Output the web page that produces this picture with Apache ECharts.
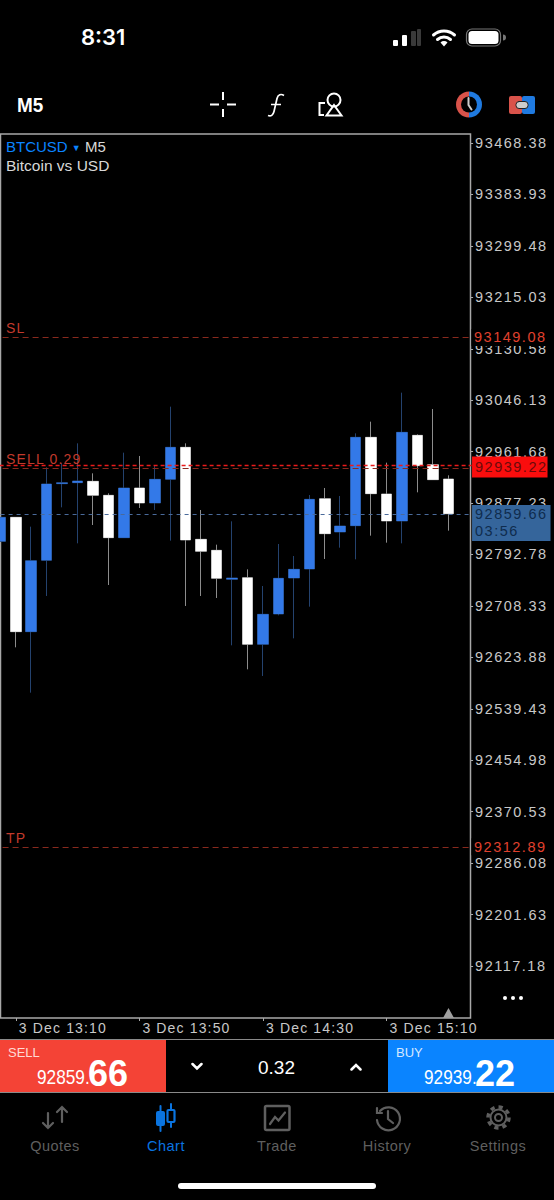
<!DOCTYPE html>
<html>
<head>
<meta charset="utf-8">
<title>BTCUSD M5</title>
<script src="https://cdn.jsdelivr.net/npm/echarts@6/dist/echarts.min.js"></script>
<style>
	html, body {margin: 0; padding: 0; background: #000; width: 554px; height: 1200px; overflow: hidden;}
	body {font-family: "Liberation Sans", sans-serif; color: #fff;}
	#chart {position: absolute; left: 0; top: 0; width: 554px; height: 1200px;}
	#chart svg text {letter-spacing: 1.15px;}
	#chart svg text[style*="14.5px"] {letter-spacing: 1.5px;}
	#icons {position: absolute; left: 0; top: 0;}
	.t {position: absolute; white-space: nowrap; line-height: 1;}
	.narrow {transform: scaleX(.82); transform-origin: left center;}
	.panel {position: absolute; top: 1040px; height: 52px;}
	.tab {position: absolute; top: 1139px; width: 90px; text-align: center; font-size: 14.5px; letter-spacing: .5px; color: #5f5f5f; line-height: 1;}
</style>
</head>
<body>
<div id="chart"></div>

<div class="panel" style="left:0;width:166px;background:#f44336"></div>
<div class="panel" style="left:388px;width:166px;background:#0a84ff"></div>

<svg id="icons" width="554" height="1200" fill="none" stroke-linecap="round">
	<!-- status bar -->
	<g fill="#fff" stroke="none">
		<rect x="393" y="40" width="5" height="6" rx="1"/>
		<rect x="402" y="35" width="5" height="11" rx="1"/>
		<rect x="411" y="31" width="5" height="15" rx="1" fill="#3a3a3a"/>
		<rect x="417" y="29" width="4" height="17" rx="1" fill="#3a3a3a"/>
	</g>
	<g stroke="#fff" stroke-width="3">
		<path d="M433.500 35a16 16 0 0 1 21 0"/>
		<path d="M437.500 39.500a10 10 0 0 1 13 0"/>
	</g>
	<path d="M440.500 42.500a5 5 0 0 1 7 0L444 46.500z" fill="#fff"/>
	<rect x="466.500" y="29" width="34" height="17" rx="5.500" stroke="#777" stroke-width="1.200"/>
	<rect x="468.500" y="31" width="30" height="13" rx="3.500" fill="#fff"/>
	<path d="M503 34.500v6a3 3 0 0 0 0-6z" fill="#777"/>

	<!-- toolbar -->
	<g stroke="#fff" stroke-width="2" stroke-linecap="butt">
		<path d="M210 104.500h9M227 104.500h9M223 92v8M223 109v8"/>
		<path d="M284 95.500c-3-2-6-1-7 3l-3 13c-1 4-3 5-6 4M271 104.500h10" stroke-width="1.700"/>
		<circle cx="334" cy="100" r="6.500" stroke-width="2"/>
		<path d="M334 105l7.500 10.500h-15z" stroke-width="2"/>
		<path d="M325 103h-5.500v12h4.500" stroke-width="2"/>
	</g>
	<path d="M469 91.500a13 13 0 0 0 0 26z" fill="#d9534a"/>
	<path d="M469 91.500a13 13 0 0 1 0 26z" fill="#1f7ae0"/>
	<circle cx="469" cy="104.500" r="8" fill="#000"/>
	<path d="M468.500 98v7l3 4.500" stroke="#ccc" stroke-width="2"/>
	<rect x="509" y="96" width="13" height="18" rx="2" fill="#d9534a"/>
	<rect x="522" y="96" width="13" height="18" rx="2" fill="#1f7ae0"/>
	<rect x="516" y="101.500" width="12" height="7" rx="3" fill="#ccc" stroke="#222" stroke-width="1"/>

	<!-- marker and menu dots -->
	<path d="M448.500 1008l5.500 10h-11z" fill="#a0a0a0"/>
	<g fill="#fff"><circle cx="505" cy="998" r="2"/><circle cx="513" cy="998" r="2"/><circle cx="521" cy="998" r="2"/></g>

	<!-- lot size strip -->
	<path d="M0 1039.500h554M0 1092.500h554" stroke="#8a8a8a" stroke-width="1"/>
	<path d="M192.500 1064l4.500 4.500 4.500-4.500M351.500 1069.500l4.500-4.500 4.500 4.500" stroke="#fff" stroke-width="2.500"/>

	<!-- tab bar icons -->
	<g stroke="#5f5f5f" stroke-width="2.200">
		<path d="M48 1113v15M43 1123l5 5 5-5M62 1107v15M57 1112l5-5 5 5"/>
		<rect x="265" y="1106" width="24.500" height="24" rx="1.500" stroke-width="2.500"/>
		<path d="M270 1124l5-7 3.500 3.500 6.500-8"/>
		<path d="M377 1120a11.500 11.500 0 1 0 3-9M377 1108v5h5"/>
		<path d="M388 1111v8l5 4"/>
		<circle cx="498.500" cy="1117.500" r="8" stroke-width="2"/>
		<circle cx="498.500" cy="1117.500" r="3.500" stroke-width="2"/>
		<circle cx="498.500" cy="1117.500" r="10.500" stroke-width="3.500" stroke-dasharray="4.200 4" stroke-linecap="butt"/>
	</g>
	<g stroke="#0a74e0" fill="#0a74e0" stroke-width="2">
		<path d="M160.500 1106v25"/><rect x="157" y="1112" width="7" height="13" rx="1"/>
		<path d="M171 1104v23" /><rect x="167.500" y="1110" width="7" height="12" rx="1" fill="#000" stroke-width="2.200"/>
	</g>
	<rect x="178" y="1183" width="198" height="6" rx="3" fill="#fff"/>
</svg>

<div class="t" style="left:81px;top:26px;font-family:Inter,sans-serif;font-weight:600;font-size:22px">8:31</div>
<div class="t narrow" style="left:17px;top:94px;font-weight:700;font-size:21px;transform:scaleX(.9)">M5</div>

<div class="t" style="left:6px;top:139px;font-size:15px;color:#d8d8d8"><span style="color:#0a84ff">BTCUSD</span> <span style="color:#0a84ff;font-size:9px;vertical-align:1px">&#9660;</span> M5</div>
<div class="t" style="left:6px;top:158px;font-size:15.500px;color:#d8d8d8">Bitcoin vs USD</div>

<div class="t" style="left:8px;top:1046px;font-size:13px;color:#ffd9d4">SELL</div>
<div class="t narrow" style="left:37px;top:1066px;font-size:21px">92859.</div>
<div class="t" style="left:88px;top:1056px;font-size:36px;font-weight:700">66</div>
<div class="t" style="left:396px;top:1046px;font-size:13px;color:#d4e8ff">BUY</div>
<div class="t narrow" style="left:424px;top:1066px;font-size:21px">92939.</div>
<div class="t" style="left:475px;top:1056px;font-size:36px;font-weight:700">22</div>
<div class="t" style="left:258px;top:1058px;font-size:19px">0.32</div>

<div class="tab" style="left:10px">Quotes</div>
<div class="tab" style="left:121px;color:#0a74e0">Chart</div>
<div class="tab" style="left:232px">Trade</div>
<div class="tab" style="left:342px">History</div>
<div class="tab" style="left:453px">Settings</div>

<script>
	// 5 minute bars, last entry of the axis is still empty
	var timeLabels = ['3 Dec 13:05','3 Dec 13:10','3 Dec 13:15','3 Dec 13:20','3 Dec 13:25','3 Dec 13:30','3 Dec 13:35','3 Dec 13:40',
		'3 Dec 13:45','3 Dec 13:50','3 Dec 13:55','3 Dec 14:00','3 Dec 14:05','3 Dec 14:10','3 Dec 14:15','3 Dec 14:20',
		'3 Dec 14:25','3 Dec 14:30','3 Dec 14:35','3 Dec 14:40','3 Dec 14:45','3 Dec 14:50','3 Dec 14:55','3 Dec 15:00',
		'3 Dec 15:05','3 Dec 15:10','3 Dec 15:15','3 Dec 15:20','3 Dec 15:25','3 Dec 15:30','3 Dec 15:35'];
	var opens = [92814.40,92853.81,92666.09,92783.20,92909.08,92910.72,92912.91,92889.92,92820.42,92901.96,
		92877.34,92916.19,92968.73,92817.68,92799.62,92752.00,92754.75,92645.29,92695.10,92754.20,
		92769.00,92884.45,92829.72,92840.12,92985.15,92892.11,92847.79,92988.43,92940.27,92916.74];
	var closes = [92853.81,92666.09,92782.66,92908.53,92910.72,92913.46,92889.92,92820.42,92901.96,92877.34,
		92916.19,92968.73,92816.59,92797.98,92753.65,92754.20,92645.29,92694.55,92753.65,92768.43,
		92883.36,92826.98,92839.57,92985.15,92892.66,92847.79,92993.36,92938.63,92915.65,92859.66];
	var lows = [92814.40,92640.37,92565.95,92724.65,92870.22,92811.12,92841.20,92742.70,92820.42,92869.13,
		92865.84,92815.50,92708.23,92724.65,92721.37,92643.65,92604.25,92593.30,92692.90,92655.14,
		92707.14,92785.40,92804.00,92784.85,92823.70,92812.21,92811.12,92894.85,92915.65,92831.91];
	var highs = [92853.81,92853.81,92838.48,92935.89,92942.46,92975.30,92926.05,92893.20,92959.97,92954.50,
		92938.08,93035.50,92975.30,92865.84,92808.93,92847.24,92768.43,92741.07,92810.02,92790.32,
		92890.47,92901.96,92888.83,92991.72,93010.87,92943.56,93058.48,92990.07,93031.67,92922.76];
	var priceTicks = [93468.38,93383.93,93299.48,93215.03,93130.58,93046.13,92961.68,92877.23,92792.78,
		92708.33,92623.88,92539.43,92454.98,92370.53,92286.08,92201.63,92117.18];
	var slPrice = 93149.08;
	var tpPrice = 92312.89;
	var orderPrice = 92934.30;
	var askPrice = 92939.22;
	var bidPrice = 92859.66;
	var countdown = '03:56';

	var myChart = echarts.init(document.getElementById('chart'), null, {renderer: 'svg'});
	var font = '"Liberation Sans", sans-serif';

	var candles = [];
	for (var i = 0; i < opens.length; i++) {
		candles.push([opens[i], closes[i], lows[i], highs[i]]);
	}

	function isTimeTick(i) {
		return (i - 1) % 8 == 0;
	}

	function leftLabel(text) {
		return {show: true, position: 'insideStartTop', formatter: text, color: '#c23a2c', fontSize: 14, fontFamily: font, offset: [10.5, 1], distance: 3};
	}

	function priceTag(text, color, bg, pad, offset) {
		return {show: true, position: 'end', distance: 0, formatter: text, color: color, backgroundColor: bg, fontSize: 14.5, fontFamily: font,
			padding: pad, offset: offset, align: 'left', verticalAlign: 'middle', lineHeight: 17};
	}

	var option = {
		backgroundColor: 'transparent',
		animation: false,
		grid: {left: -7.4, top: 134, width: 478.95, height: 884, outerBoundsMode: 'none'},
		xAxis: {
			type: 'category',
			data: timeLabels,
			axisLine: {show: false},
			splitLine: {show: false},
			axisTick: {show: true, alignWithLabel: true, interval: isTimeTick, length: 3, lineStyle: {color: '#aaa'}},
			axisLabel: {interval: isTimeTick, align: 'left', color: '#c8c8c8', fontSize: 14, fontFamily: font, margin: 3, padding: [0, 0, 0, 3]}
		},
		yAxis: {
			type: 'value',
			position: 'right',
			offset: -1.45,
			min: 92031.8,
			max: 93483.16,
			axisLine: {show: false},
			splitLine: {show: false},
			axisTick: {show: true, length: 3, customValues: priceTicks, lineStyle: {color: '#aaa'}},
			axisLabel: {
				customValues: priceTicks,
				color: '#c8c8c8',
				fontSize: 14.5,
				fontFamily: font,
				margin: 5,
				formatter: function (v) {
					return v.toFixed(2);
				}
			}
		},
		series: [
			{
				// wicks are dimmer than the bodies, so they get their own pass
				name: 'wicks',
				type: 'candlestick',
				data: candles,
				barWidth: 11,
				itemStyle: {color: '#3379e8', color0: '#fff', borderColor: '#24426e', borderColor0: '#8c8c8c', borderWidth: 1},
				markLine: {
					silent: true,
					symbol: ['none', 'none'],
					animation: false,
					data: [
						{yAxis: slPrice, lineStyle: {color: '#8a2a1e', type: [6, 4], width: 1}, label: leftLabel('SL')},
						{yAxis: tpPrice, lineStyle: {color: '#8a2a1e', type: [6, 4], width: 1}, label: leftLabel('TP')},
						{yAxis: orderPrice, lineStyle: {color: '#8a2a1e', type: [6, 4], width: 1}, label: leftLabel('SELL 0.29')},
						{yAxis: askPrice, lineStyle: {color: '#ea1a1a', type: [4, 3], width: 1.3}, label: {show: false}},
						{yAxis: bidPrice, lineStyle: {color: '#4a6a9a', type: [4, 4], width: 1}, label: {show: false}}
					]
				}
			},
			{
				name: 'bodies',
				type: 'candlestick',
				data: candles,
				barWidth: 11,
				itemStyle: {color: '#3379e8', color0: '#fff', borderColor: '#3379e8', borderColor0: '#fff', borderWidth: 0},
				markLine: {
					silent: true,
					symbol: ['none', 'none'],
					animation: false,
					lineStyle: {color: 'transparent'},
					data: [
						{yAxis: slPrice, label: priceTag(slPrice.toFixed(2), '#e0402e', '#000', [0, 14, 0, 2.5], [0, 0])},
						{yAxis: tpPrice, label: priceTag(tpPrice.toFixed(2), '#e0402e', '#000', [0, 14, 0, 2.5], [0, 0])},
						{yAxis: askPrice, label: priceTag(askPrice.toFixed(2), '#6a0a0a', '#fa0d0d', [2, 12, 2, 3], [0.5, 1.7])},
						{yAxis: bidPrice, label: priceTag(bidPrice.toFixed(2) + '\n' + countdown, '#0f2c4e', '#35659b', [1, 15, 1, 3], [0.5, 9.2])}
					]
				}
			}
		],
		graphic: [{
			type: 'rect',
			shape: {x: 0.5, y: 134, width: 470, height: 884},
			style: {fill: 'none', stroke: '#a8a8a8', lineWidth: 1.5},
			z: 1,
			silent: true
		}]
	};

	myChart.setOption(option);
</script>
</body>
</html>
